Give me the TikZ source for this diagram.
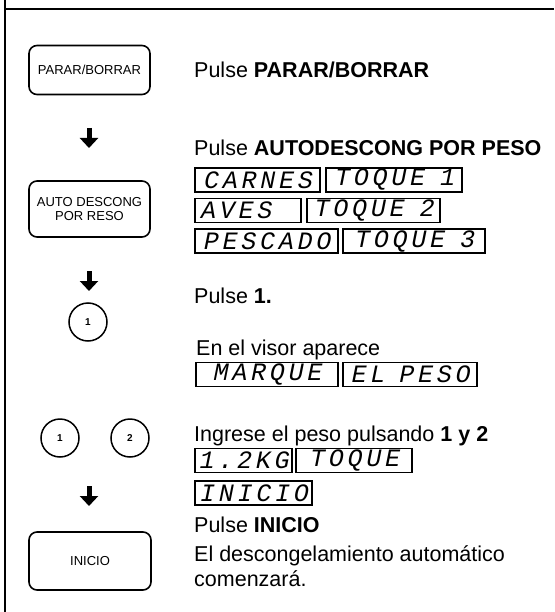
\documentclass[tikz,border=0pt]{standalone}
\usepackage{fontspec}
\setmainfont{Liberation Sans}
\newfontfamily\lcd[FakeSlant=0.2,LetterSpace=15]{Liberation Mono}
\newcommand\lgap{\hspace{15pt}}
\usetikzlibrary{arrows.meta}
\begin{document}
\begin{tikzpicture}[x=1pt,y=-1pt,
  txt/.style={anchor=base west, inner sep=0pt, font=\fontsize{21.5}{25}\selectfont},
  btn/.style={draw, line width=1.6pt, rounded corners=8pt, minimum width=121pt, inner sep=2pt, align=center, font=\fontsize{13}{14}\selectfont},
  lcdbox/.style={draw, line width=1.7pt, anchor=west, inner xsep=5pt, inner ysep=0pt, minimum height=24pt, align=center, font=\lcd\fontsize{25}{25}\selectfont},
  circ/.style={draw, circle, line width=1.5pt, minimum size=38pt, inner sep=0pt, font=\bfseries\fontsize{10}{10}\selectfont},
  dnarrow/.style={line width=5pt, -{Triangle[width=18pt,length=10pt]}}]
\useasboundingbox (0,0) rectangle (554,612);
% frame
\draw[line width=1.8pt] (5,0) -- (5,612);
\draw[line width=1.5pt] (5,9) -- (554,9);
% step 1
\node[btn, minimum height=49pt] (parar) at (89.5,70) {PARAR/BORRAR};
\node[txt] (t1) at (194,78) {Pulse \textbf{PARAR/BORRAR}};
\coordinate (a1s) at (89,128);
\coordinate (a1e) at (89,148);
\draw[dnarrow] (a1s) -- (a1e);
% step 2
\node[txt] (t2) at (194,156) {Pulse \textbf{AUTODESCONG POR PESO}};
\node[lcdbox, text width=115pt] (carnes) at (194,180) {CARNES};
\node[lcdbox, text width=130pt, inner xsep=3pt] (toque1) at (325,180) {TOQUE\lgap 1};
\node[lcdbox, text width=96pt, align=left] (aves) at (194,210.5) {AVES};
\node[lcdbox, text width=127pt, inner xsep=3pt] (toque2) at (306,210.5) {TOQUE\lgap 2};
\node[lcdbox, text width=133pt] (pescado) at (194,241) {PESCADO};
\node[lcdbox, text width=134pt, inner xsep=4pt] (toque3) at (342,241) {TOQUE\lgap 3};
\node[btn, minimum height=56pt] (auto) at (89.5,209) {AUTO DESCONG\\POR RESO};
\coordinate (a2s) at (89,271);
\coordinate (a2e) at (89,291);
\draw[dnarrow] (a2s) -- (a2e);
% step 3
\node[circ] (c1) at (88,322) {1};
\node[txt] (t3) at (194,303) {Pulse \textbf{1.}};
\node[txt] (t4) at (196,355) {En el visor aparece};
\node[lcdbox, text width=132pt] (marque) at (195,374.5) {MARQUE};
\node[lcdbox, text width=128pt, inner xsep=3pt] (elpeso) at (342,374.5) {EL\hspace{14pt}PESO};
% step 4
\node[circ] (c2a) at (60,438) {1};
\node[circ] (c2b) at (130,438) {2};
\node[txt] (t5) at (194,441) {Ingrese el peso pulsando \textbf{1 y 2}};
\node[lcdbox, text width=93pt, inner xsep=2pt] (kg) at (194,460.5) {1.2KG};
\node[lcdbox, text width=106pt] (toque) at (295,460.5) {TOQUE};
\node[lcdbox, text width=113pt, inner xsep=2pt] (inicio) at (194,493) {INICIO};
\coordinate (a3s) at (89,486);
\coordinate (a3e) at (89,506);
\draw[dnarrow] (a3s) -- (a3e);
% step 5
\node[txt] (t6) at (194,532) {Pulse \textbf{INICIO}};
\node[btn, minimum height=58pt, minimum width=122pt] (ini) at (90,561) {INICIO};
\node[txt] (t7) at (194,561) {El descongelamiento automático};
\node[txt] (t8) at (194,586) {comenzará.};
\end{tikzpicture}
\end{document}
